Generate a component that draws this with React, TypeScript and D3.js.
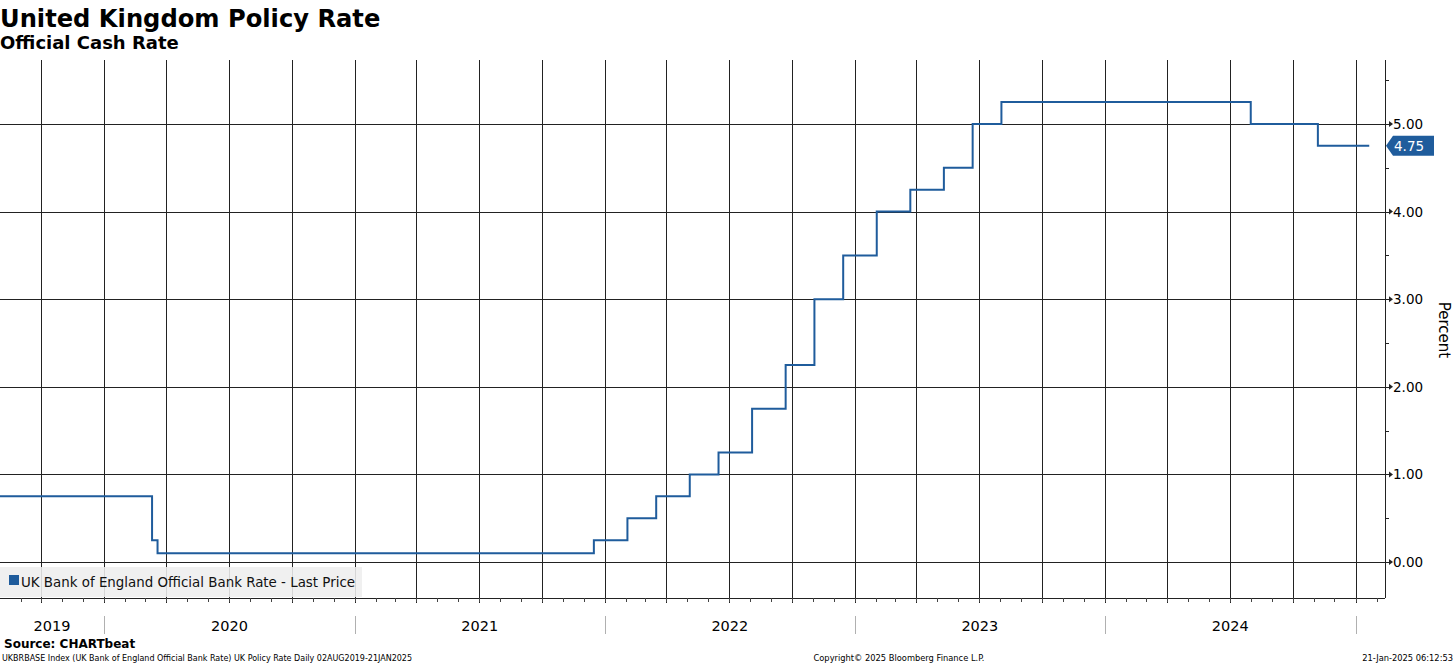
import React from "react";
import * as d3 from "d3";

// Policy rate change dates and levels (step function)
const changeDates: string[] = [
  "2019-08-02", "2020-03-11", "2020-03-19", "2021-12-16", "2022-02-03", "2022-03-17",
  "2022-05-05", "2022-06-16", "2022-08-04", "2022-09-22", "2022-11-03", "2022-12-15",
  "2023-02-02", "2023-03-23", "2023-05-11", "2023-06-22", "2023-08-03", "2024-08-01",
  "2024-11-07", "2025-01-21",
];
const rateValues: number[] = [
  0.75, 0.25, 0.1, 0.25, 0.5, 0.75,
  1.0, 1.25, 1.75, 2.25, 3.0, 3.5,
  4.0, 4.25, 4.5, 5.0, 5.25, 5.0,
  4.75, 4.75,
];
const yTicks: number[] = [0, 1, 2, 3, 4, 5];
const yMinorTicks: number[] = [0.5, 1.5, 2.5, 3.5, 4.5, 5.5];
const yearLabels: string[] = ["2019", "2020", "2021", "2022", "2023", "2024"];

const W = 1456;
const H = 665;
const PL = 0, PR = 1385, PT = 60, PB = 598;
const BLUE = "#1f5c9c";
const FONT = "'DejaVu Sans', Verdana, sans-serif";

export default function App() {
  const parse = d3.utcParse("%Y-%m-%d");
  const dates = changeDates.map((d) => parse(d) as Date);
  const data = dates.map((d, i) => ({ date: d, value: rateValues[i] }));

  const x = d3
    .scaleUtc()
    .domain([parse("2019-08-02") as Date, parse("2025-02-13") as Date])
    .range([PL, PR]);
  const y = d3.scaleLinear().domain([-0.41, 5.73]).range([PB, PT]);

  const line = d3
    .line<{ date: Date; value: number }>()
    .x((d) => x(d.date))
    .y((d) => y(d.value))
    .curve(d3.curveStepAfter);

  const [d0, d1] = x.domain();
  const quarters = d3.utcMonth.range(d0, d1).filter((d) => d.getUTCMonth() % 3 === 0);
  const months = d3.utcMonth.range(d0, d1);
  const years = d3.utcYear.range(d0, d1); // Jan 1 boundaries
  const yearBounds = [d0, ...years, d1];

  const crisp = (v: number) => Math.round(v) + 0.5;
  const last = data[data.length - 1];
  const ly = y(last.value);

  return (
    <div style={{ position: "fixed", left: 0, top: 0 }}>
      <svg width={W} height={H} style={{ display: "block", background: "#fff" }}>
        {/* Titles */}
        <text x={0} y={27} fontFamily={FONT} fontWeight="bold" fontSize={24.2} fill="#000">
          United Kingdom Policy Rate
        </text>
        <text x={0} y={49} fontFamily={FONT} fontWeight="bold" fontSize={18} fill="#000">
          Official Cash Rate
        </text>

        {/* Vertical quarterly gridlines */}
        {quarters.map((q, i) => (
          <line key={"vq" + i} x1={crisp(x(q))} x2={crisp(x(q))} y1={PT} y2={PB + 5} stroke="#222" strokeWidth={1} />
        ))}
        {/* Horizontal gridlines */}
        {yTicks.map((t) => (
          <line key={"hg" + t} x1={PL} x2={PR + 4} y1={crisp(y(t))} y2={crisp(y(t))} stroke="#222" strokeWidth={1} />
        ))}

        {/* Legend */}
        <rect x={0} y={567} width={362} height={30} fill="#eeeeee" fillOpacity={0.88} />
        <rect x={9} y={575} width={10} height={10} fill={BLUE} />
        <text x={21} y={587} fontFamily={FONT} fontSize={13.4} fill="#111">
          UK Bank of England Official Bank Rate - Last Price
        </text>

        {/* Series */}
        <path d={line(data) || ""} fill="none" stroke={BLUE} strokeWidth={2} strokeLinejoin="miter" />

        {/* Right axis */}
        <line x1={crisp(PR)} x2={crisp(PR)} y1={PT} y2={PB} stroke="#222" />
        {yMinorTicks.map((t) => (
          <line key={"ym" + t} x1={PR} x2={PR + 4} y1={crisp(y(t))} y2={crisp(y(t))} stroke="#222" />
        ))}
        {yTicks.map((t) => (
          <g key={"yt" + t}>
            <path d={`M${PR + 4},${y(t) - 3}L${PR + 8},${y(t)}L${PR + 4},${y(t) + 3}Z`} fill="#222" />
            <text x={PR + 8} y={y(t) + 5} fontFamily={FONT} fontSize={13.5} fill="#000">
              {d3.format(".2f")(t)}
            </text>
          </g>
        ))}
        <text
          transform={`translate(${1439},${330}) rotate(90)`}
          textAnchor="middle"
          fontFamily={FONT}
          fontSize={15}
          fill="#000"
        >
          Percent
        </text>

        {/* Last value tag */}
        <path
          d={`M${PR + 1},${ly}L${PR + 8},${ly - 10}L${1434},${ly - 10}L${1434},${ly + 10}L${PR + 8},${ly + 10}Z`}
          fill={BLUE}
        />
        <text x={PR + 9} y={ly + 5} fontFamily={FONT} fontSize={13.5} fill="#fff">
          {d3.format(".2f")(last.value)}
        </text>

        {/* Bottom axis */}
        <line x1={PL} x2={PR} y1={crisp(PB)} y2={crisp(PB)} stroke="#222" />
        {months.map((m, i) => (
          <line key={"mt" + i} x1={crisp(x(m))} x2={crisp(x(m))} y1={PB} y2={PB + 4} stroke="#444" />
        ))}
        {years.map((yv, i) => (
          <line key={"ys" + i} x1={crisp(x(yv))} x2={crisp(x(yv))} y1={616} y2={634} stroke="#b0b0b0" />
        ))}
        {yearLabels.map((lab, i) => {
          const a = x(yearBounds[i]);
          const b = x(yearBounds[i + 1]);
          return (
            <text key={"yl" + lab} x={(a + b) / 2} y={631} textAnchor="middle" fontFamily={FONT} fontSize={14.5} fill="#000">
              {lab}
            </text>
          );
        })}

        {/* Footer */}
        <text x={4} y={648} fontFamily={FONT} fontWeight="bold" fontSize={12} fill="#000">
          Source: CHARTbeat
        </text>
        <text x={2} y={661} fontFamily={FONT} fontSize={8} fill="#000">
          UKBRBASE Index (UK Bank of England Official Bank Rate) UK Policy Rate  Daily 02AUG2019-21JAN2025
        </text>
        <text x={899} y={661} textAnchor="middle" fontFamily={FONT} fontSize={8.3} fill="#000">
          Copyright© 2025 Bloomberg Finance L.P.
        </text>
        <text x={1453} y={661} textAnchor="end" fontFamily={FONT} fontSize={8.3} fill="#000">
          21-Jan-2025 06:12:53
        </text>
      </svg>
    </div>
  );
}
